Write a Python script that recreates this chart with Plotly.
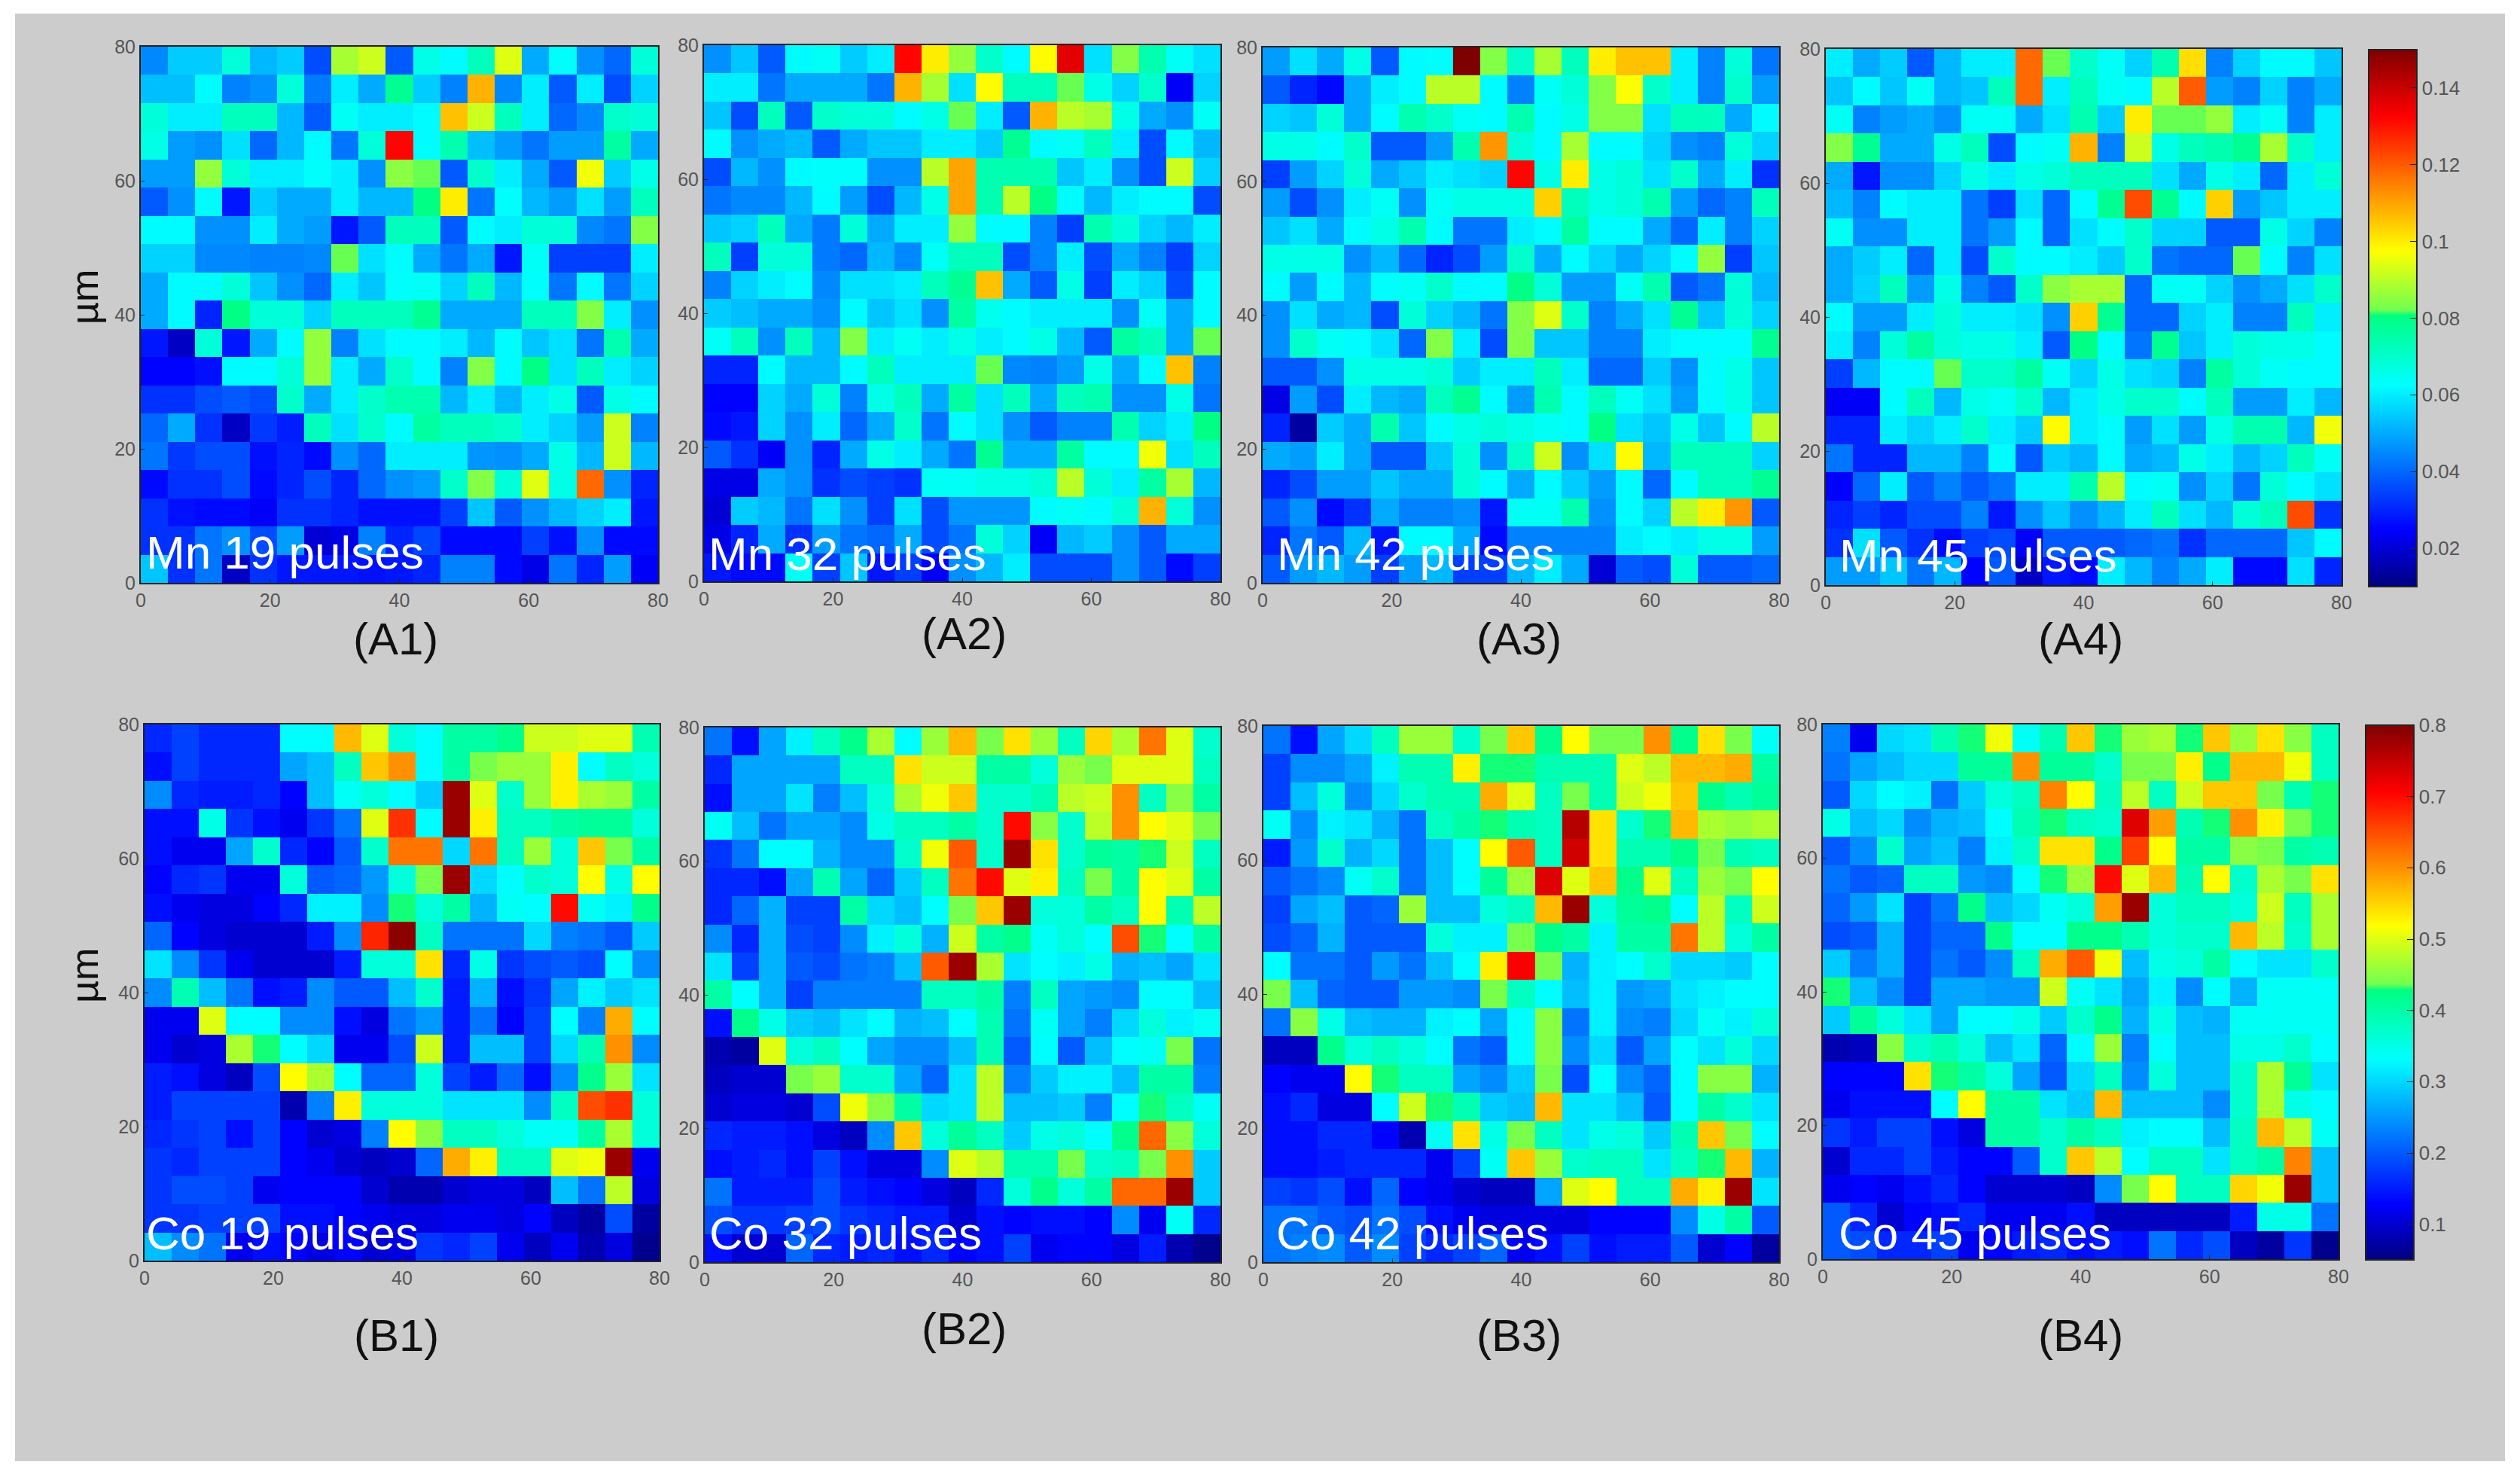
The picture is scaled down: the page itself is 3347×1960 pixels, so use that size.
import plotly.graph_objects as go
import numpy as np

# values, rows listed top to bottom
# Mn maps in units of 0.001, Co maps in units of 0.01
mn_19 = [
    [45, 55, 55, 68, 52, 55, 36, 88, 92, 38, 66, 62, 72, 94, 50, 63, 46, 40, 68],
    [53, 53, 62, 44, 46, 68, 43, 60, 50, 78, 55, 44, 108, 45, 60, 38, 60, 36, 56],
    [68, 60, 60, 72, 72, 52, 38, 64, 60, 60, 62, 106, 92, 72, 60, 40, 45, 70, 68],
    [66, 48, 46, 58, 40, 52, 62, 42, 68, 132, 62, 74, 53, 48, 42, 48, 48, 76, 50],
    [48, 48, 86, 68, 60, 60, 63, 60, 46, 85, 82, 38, 70, 60, 50, 38, 96, 55, 66],
    [38, 46, 62, 28, 55, 50, 50, 60, 52, 52, 80, 100, 42, 63, 52, 48, 58, 48, 72],
    [62, 62, 46, 46, 60, 50, 48, 28, 38, 72, 72, 38, 62, 60, 68, 68, 45, 42, 84],
    [56, 56, 45, 45, 44, 44, 45, 82, 58, 62, 50, 42, 50, 28, 64, 34, 34, 34, 60],
    [50, 62, 62, 68, 54, 46, 40, 60, 54, 63, 64, 56, 72, 52, 63, 42, 62, 42, 56],
    [50, 62, 30, 80, 68, 68, 56, 72, 72, 72, 78, 50, 50, 50, 72, 72, 84, 60, 46],
    [28, 18, 68, 28, 50, 62, 86, 44, 58, 62, 62, 60, 52, 62, 54, 58, 42, 74, 50],
    [25, 25, 27, 62, 62, 68, 86, 60, 50, 70, 62, 44, 84, 62, 80, 58, 72, 60, 56],
    [32, 32, 36, 38, 36, 70, 50, 60, 70, 74, 74, 52, 60, 52, 60, 66, 38, 66, 62],
    [40, 50, 32, 18, 33, 29, 72, 58, 70, 62, 76, 72, 72, 70, 60, 56, 48, 92, 44],
    [42, 33, 36, 36, 27, 30, 26, 46, 40, 60, 60, 60, 47, 46, 50, 66, 52, 92, 52],
    [26, 32, 32, 36, 26, 30, 36, 30, 40, 46, 48, 70, 84, 68, 94, 66, 118, 46, 30],
    [32, 27, 26, 26, 24, 32, 32, 30, 27, 27, 27, 34, 54, 38, 46, 52, 56, 60, 28],
    [32, 32, 42, 46, 36, 48, 20, 22, 44, 30, 35, 26, 26, 26, 34, 27, 46, 26, 26],
    [54, 32, 42, 18, 32, 28, 28, 28, 27, 28, 30, 44, 44, 26, 22, 42, 30, 48, 24],
]
mn_32 = [
    [46, 54, 38, 62, 64, 55, 60, 132, 100, 86, 70, 62, 98, 136, 58, 84, 74, 64, 58],
    [60, 60, 42, 50, 50, 50, 42, 108, 88, 58, 98, 72, 72, 82, 66, 56, 70, 24, 56],
    [54, 36, 72, 38, 70, 68, 68, 62, 66, 82, 60, 38, 108, 90, 88, 66, 50, 46, 64],
    [62, 46, 50, 52, 38, 50, 54, 54, 60, 60, 55, 78, 62, 64, 72, 60, 36, 62, 52],
    [36, 52, 46, 62, 63, 63, 46, 46, 90, 110, 74, 74, 74, 54, 60, 46, 36, 92, 56],
    [42, 45, 45, 52, 62, 48, 36, 52, 66, 110, 74, 90, 80, 62, 52, 60, 62, 62, 36],
    [54, 56, 72, 50, 43, 68, 50, 60, 60, 86, 62, 62, 44, 34, 74, 68, 56, 52, 60],
    [72, 34, 68, 68, 43, 40, 52, 45, 64, 72, 72, 36, 44, 60, 36, 50, 44, 34, 56],
    [44, 56, 60, 62, 45, 58, 58, 60, 72, 78, 106, 50, 38, 66, 34, 60, 56, 36, 62],
    [55, 53, 50, 50, 46, 62, 54, 58, 46, 76, 65, 62, 60, 60, 60, 46, 64, 50, 62],
    [64, 72, 46, 72, 52, 84, 60, 64, 60, 66, 60, 62, 66, 52, 38, 76, 72, 50, 82],
    [30, 30, 62, 52, 52, 62, 72, 60, 60, 60, 82, 45, 44, 48, 66, 50, 62, 106, 44],
    [25, 25, 56, 50, 68, 44, 66, 72, 50, 76, 58, 72, 50, 72, 74, 46, 46, 66, 42],
    [26, 28, 56, 46, 60, 40, 50, 70, 42, 62, 58, 46, 38, 44, 44, 74, 56, 60, 80],
    [38, 32, 24, 46, 30, 50, 66, 60, 50, 42, 78, 50, 50, 76, 62, 62, 96, 58, 72],
    [22, 22, 50, 46, 32, 36, 34, 32, 64, 64, 66, 66, 68, 90, 68, 60, 76, 88, 52],
    [20, 55, 52, 42, 58, 46, 34, 58, 36, 47, 47, 47, 62, 64, 62, 68, 108, 68, 46],
    [22, 30, 50, 32, 48, 42, 40, 50, 36, 42, 68, 56, 24, 52, 55, 46, 38, 50, 50],
    [28, 26, 26, 64, 34, 54, 28, 34, 24, 46, 52, 60, 36, 36, 36, 46, 38, 26, 34],
]
mn_42 = [
    [48, 58, 50, 66, 38, 62, 63, 150, 84, 70, 88, 72, 100, 106, 106, 60, 44, 68, 42],
    [38, 30, 26, 50, 60, 62, 90, 90, 62, 44, 64, 68, 84, 97, 70, 60, 44, 70, 48],
    [56, 54, 68, 50, 62, 74, 70, 64, 62, 74, 62, 66, 84, 84, 58, 72, 72, 50, 62],
    [66, 66, 62, 70, 38, 38, 48, 74, 112, 68, 62, 88, 62, 62, 56, 46, 44, 68, 56],
    [34, 48, 56, 68, 50, 54, 60, 58, 56, 132, 66, 100, 66, 68, 58, 70, 50, 60, 32],
    [48, 36, 46, 60, 64, 46, 64, 66, 66, 66, 104, 72, 66, 68, 74, 48, 40, 44, 72],
    [54, 58, 50, 62, 66, 74, 62, 42, 42, 60, 62, 76, 62, 62, 50, 40, 60, 44, 56],
    [66, 66, 66, 46, 52, 40, 30, 36, 48, 70, 50, 62, 56, 50, 56, 62, 86, 34, 54],
    [62, 48, 62, 52, 63, 64, 70, 62, 62, 80, 68, 48, 48, 64, 74, 38, 42, 68, 52],
    [46, 58, 50, 52, 36, 68, 56, 52, 42, 84, 94, 70, 44, 50, 58, 78, 54, 68, 56],
    [46, 70, 64, 62, 58, 40, 84, 60, 36, 84, 54, 54, 44, 44, 60, 62, 62, 62, 78],
    [38, 38, 46, 66, 66, 66, 68, 55, 60, 60, 72, 60, 40, 40, 55, 46, 62, 66, 54],
    [22, 48, 36, 60, 52, 50, 72, 78, 62, 48, 74, 62, 72, 64, 58, 48, 62, 66, 54],
    [30, 14, 55, 50, 74, 54, 62, 66, 68, 66, 64, 62, 80, 58, 54, 66, 54, 62, 90],
    [50, 48, 60, 50, 38, 38, 54, 68, 46, 70, 92, 46, 58, 98, 52, 72, 72, 72, 56],
    [30, 36, 48, 48, 54, 50, 50, 68, 62, 50, 62, 55, 48, 62, 40, 62, 72, 72, 78],
    [38, 46, 26, 32, 50, 44, 44, 46, 28, 64, 64, 74, 46, 62, 56, 90, 100, 112, 38],
    [30, 42, 38, 52, 28, 62, 62, 50, 26, 44, 44, 44, 44, 60, 62, 60, 66, 66, 48],
    [38, 48, 52, 48, 34, 48, 52, 34, 34, 52, 60, 50, 20, 38, 36, 68, 38, 38, 40],
]
mn_45 = [
    [60, 50, 55, 38, 52, 60, 60, 118, 82, 70, 64, 56, 74, 102, 44, 56, 62, 62, 54],
    [54, 62, 54, 64, 52, 54, 72, 118, 60, 72, 64, 62, 90, 120, 48, 44, 56, 44, 50],
    [64, 44, 48, 50, 46, 64, 64, 50, 58, 74, 55, 100, 82, 82, 86, 60, 64, 44, 60],
    [84, 78, 50, 50, 66, 72, 36, 62, 64, 108, 44, 92, 66, 72, 74, 78, 88, 70, 60],
    [50, 28, 46, 46, 56, 66, 60, 66, 68, 72, 72, 72, 58, 50, 66, 60, 40, 60, 68],
    [52, 44, 62, 60, 60, 42, 34, 58, 40, 62, 78, 122, 78, 62, 104, 48, 54, 60, 60],
    [64, 46, 46, 60, 60, 42, 48, 62, 40, 58, 62, 70, 56, 56, 38, 38, 66, 56, 44],
    [50, 55, 60, 40, 60, 36, 70, 62, 62, 60, 55, 70, 42, 40, 40, 82, 62, 44, 58],
    [50, 56, 72, 48, 66, 44, 38, 70, 85, 88, 88, 40, 64, 64, 56, 46, 50, 58, 70],
    [62, 48, 48, 60, 68, 60, 60, 58, 46, 104, 78, 40, 40, 56, 60, 44, 44, 72, 60],
    [60, 44, 68, 76, 68, 66, 66, 60, 38, 80, 62, 42, 78, 54, 60, 68, 66, 66, 62],
    [34, 52, 62, 62, 82, 70, 70, 76, 64, 56, 66, 58, 56, 44, 76, 68, 64, 62, 62],
    [24, 24, 62, 72, 52, 66, 64, 70, 52, 60, 66, 70, 70, 62, 72, 48, 48, 60, 52],
    [30, 30, 60, 56, 60, 70, 60, 55, 98, 60, 62, 48, 58, 48, 66, 74, 74, 52, 96],
    [42, 30, 30, 52, 52, 44, 62, 38, 55, 52, 62, 50, 52, 66, 60, 52, 56, 72, 64],
    [25, 40, 60, 38, 44, 38, 42, 60, 60, 74, 90, 62, 64, 46, 56, 42, 68, 62, 58],
    [30, 34, 30, 36, 36, 44, 28, 46, 54, 46, 52, 60, 72, 58, 52, 68, 72, 122, 32],
    [32, 58, 38, 32, 26, 34, 36, 24, 38, 38, 38, 40, 42, 32, 40, 40, 40, 54, 62],
    [48, 48, 54, 42, 52, 25, 38, 18, 28, 26, 60, 52, 44, 50, 60, 26, 26, 58, 30],
]
co_19 = [
    [16, 18, 16, 16, 16, 33, 33, 57, 50, 36, 33, 40, 40, 42, 49, 49, 50, 50, 39],
    [14, 18, 16, 16, 16, 26, 28, 38, 56, 60, 33, 40, 44, 46, 46, 53, 33, 38, 36],
    [24, 16, 15, 15, 16, 13, 28, 34, 36, 33, 29, 78, 50, 37, 46, 53, 47, 46, 40],
    [14, 14, 35, 17, 14, 12, 17, 22, 50, 67, 33, 78, 53, 38, 38, 40, 41, 41, 36],
    [14, 12, 12, 26, 37, 16, 13, 20, 37, 62, 62, 30, 62, 38, 46, 36, 56, 44, 40],
    [13, 16, 17, 12, 12, 36, 20, 21, 25, 36, 44, 78, 30, 33, 37, 36, 52, 35, 52],
    [14, 12, 11, 11, 13, 16, 32, 32, 24, 43, 36, 40, 27, 34, 33, 70, 34, 32, 42],
    [21, 13, 11, 10, 10, 10, 15, 24, 68, 79, 38, 22, 22, 22, 30, 23, 22, 20, 29],
    [31, 24, 17, 12, 10, 10, 10, 15, 36, 36, 54, 16, 35, 17, 19, 20, 19, 33, 24],
    [24, 39, 28, 22, 14, 15, 24, 20, 20, 28, 37, 15, 27, 14, 17, 26, 32, 29, 31],
    [12, 12, 50, 33, 33, 24, 24, 14, 11, 22, 25, 15, 22, 13, 18, 33, 23, 58, 33],
    [12, 10, 11, 47, 43, 33, 30, 12, 12, 19, 49, 15, 28, 28, 18, 30, 39, 60, 24],
    [15, 14, 11, 9, 19, 52, 47, 33, 21, 21, 36, 18, 15, 21, 14, 24, 42, 46, 31],
    [15, 18, 18, 18, 18, 8, 23, 53, 36, 36, 36, 31, 31, 31, 24, 38, 65, 67, 36],
    [16, 17, 18, 14, 18, 13, 10, 11, 23, 52, 45, 38, 38, 36, 34, 34, 40, 47, 36],
    [17, 16, 18, 18, 18, 13, 12, 10, 9, 10, 21, 58, 53, 38, 38, 50, 51, 78, 12],
    [17, 19, 19, 18, 12, 13, 13, 13, 10, 8, 8, 10, 11, 11, 9, 28, 22, 48, 11],
    [17, 17, 18, 18, 18, 14, 14, 13, 12, 11, 11, 12, 12, 11, 13, 9, 7, 19, 7],
    [28, 24, 22, 12, 14, 13, 11, 13, 10, 11, 17, 16, 18, 12, 9, 12, 8, 11, 6],
]
co_32 = [
    [22, 14, 26, 32, 38, 42, 47, 33, 46, 57, 44, 54, 46, 38, 55, 47, 62, 50, 37],
    [16, 26, 26, 26, 26, 38, 38, 54, 49, 49, 40, 40, 36, 46, 44, 50, 50, 50, 38],
    [14, 26, 26, 31, 23, 28, 36, 47, 51, 56, 37, 37, 39, 48, 49, 60, 38, 45, 40],
    [34, 28, 22, 26, 26, 24, 35, 38, 38, 40, 37, 70, 45, 37, 48, 60, 52, 50, 44],
    [17, 22, 33, 33, 27, 24, 24, 37, 51, 64, 37, 78, 54, 37, 41, 40, 43, 49, 38],
    [16, 16, 14, 26, 39, 26, 21, 29, 38, 62, 70, 50, 53, 38, 44, 40, 52, 50, 40],
    [16, 21, 27, 18, 18, 40, 30, 28, 33, 44, 56, 78, 36, 36, 40, 38, 52, 39, 48],
    [24, 16, 27, 19, 18, 24, 32, 36, 27, 49, 40, 42, 34, 36, 33, 65, 43, 33, 40],
    [31, 18, 27, 20, 19, 22, 23, 28, 64, 78, 47, 31, 33, 32, 35, 27, 28, 26, 31],
    [40, 33, 27, 18, 23, 23, 23, 23, 38, 38, 40, 23, 38, 26, 25, 24, 33, 33, 28],
    [14, 42, 35, 29, 28, 31, 33, 27, 28, 33, 39, 22, 34, 26, 23, 30, 36, 32, 34],
    [8, 7, 50, 36, 38, 33, 26, 24, 24, 28, 39, 20, 33, 20, 28, 33, 34, 44, 22],
    [9, 10, 10, 44, 46, 37, 37, 26, 21, 31, 48, 23, 29, 32, 32, 28, 40, 40, 23],
    [10, 11, 11, 10, 19, 51, 45, 40, 30, 31, 48, 28, 28, 29, 23, 33, 43, 38, 34],
    [16, 15, 15, 14, 11, 9, 24, 56, 36, 41, 38, 29, 35, 36, 33, 42, 63, 45, 36],
    [14, 15, 16, 14, 18, 14, 11, 11, 24, 50, 48, 39, 39, 44, 37, 38, 44, 60, 29],
    [22, 15, 15, 15, 19, 15, 14, 13, 11, 9, 16, 36, 42, 36, 40, 63, 63, 78, 29],
    [19, 17, 17, 18, 19, 17, 16, 15, 15, 10, 14, 13, 14, 14, 13, 24, 12, 34, 16],
    [14, 10, 10, 21, 16, 15, 16, 14, 16, 13, 14, 18, 12, 13, 13, 11, 15, 8, 6],
]
co_42 = [
    [22, 14, 26, 30, 38, 46, 46, 37, 44, 56, 42, 52, 44, 44, 60, 42, 54, 44, 34],
    [18, 24, 24, 26, 32, 39, 39, 53, 43, 43, 39, 39, 39, 50, 48, 57, 57, 58, 40],
    [18, 28, 36, 24, 30, 37, 39, 39, 58, 50, 38, 44, 39, 49, 51, 56, 42, 39, 41],
    [34, 24, 32, 31, 27, 22, 38, 40, 43, 39, 38, 76, 54, 37, 43, 57, 47, 46, 47],
    [15, 25, 37, 27, 30, 22, 28, 33, 52, 64, 38, 74, 54, 39, 39, 42, 44, 39, 38],
    [20, 22, 24, 34, 37, 22, 28, 33, 41, 46, 73, 50, 56, 42, 50, 38, 46, 44, 52],
    [18, 26, 28, 20, 21, 46, 28, 28, 36, 38, 57, 78, 36, 41, 42, 33, 48, 38, 49],
    [19, 21, 27, 20, 20, 20, 36, 32, 32, 44, 42, 40, 32, 40, 40, 62, 48, 36, 40],
    [33, 22, 22, 20, 25, 22, 28, 33, 53, 71, 44, 27, 32, 33, 37, 30, 30, 29, 33],
    [44, 28, 21, 20, 20, 25, 25, 24, 44, 38, 33, 28, 32, 25, 26, 31, 32, 33, 33],
    [22, 45, 35, 28, 27, 27, 32, 33, 26, 33, 45, 22, 32, 24, 23, 30, 34, 32, 36],
    [9, 9, 42, 36, 38, 36, 33, 22, 20, 33, 45, 24, 30, 20, 26, 33, 31, 36, 30],
    [13, 12, 12, 52, 43, 38, 38, 26, 24, 29, 44, 19, 33, 24, 21, 33, 45, 45, 27],
    [14, 16, 11, 11, 33, 49, 43, 39, 29, 28, 57, 31, 31, 28, 20, 33, 40, 37, 31],
    [14, 14, 16, 16, 13, 8, 34, 54, 35, 44, 38, 31, 35, 36, 29, 39, 56, 44, 33],
    [14, 14, 15, 16, 16, 16, 12, 18, 34, 56, 46, 37, 38, 38, 31, 38, 43, 57, 27],
    [18, 17, 19, 14, 21, 13, 12, 10, 9, 9, 26, 50, 52, 38, 38, 58, 53, 78, 31],
    [22, 22, 20, 19, 22, 19, 14, 12, 11, 11, 11, 11, 13, 13, 13, 24, 35, 40, 20],
    [22, 23, 24, 20, 24, 18, 16, 18, 21, 12, 14, 18, 14, 15, 15, 20, 10, 13, 7],
]
co_45 = [
    [23, 12, 30, 31, 39, 43, 51, 34, 39, 56, 43, 46, 47, 43, 56, 46, 54, 45, 38],
    [22, 26, 28, 30, 30, 41, 41, 60, 41, 41, 37, 44, 44, 53, 42, 57, 57, 51, 38],
    [20, 30, 33, 32, 22, 29, 36, 38, 61, 52, 38, 48, 38, 49, 56, 56, 44, 39, 43],
    [35, 28, 30, 24, 27, 28, 33, 39, 43, 38, 37, 73, 59, 39, 43, 60, 53, 44, 43],
    [20, 24, 37, 26, 28, 23, 32, 37, 54, 54, 42, 66, 52, 40, 40, 45, 44, 40, 39],
    [22, 20, 21, 38, 38, 25, 24, 33, 43, 46, 70, 50, 57, 39, 52, 37, 47, 44, 54],
    [21, 25, 31, 18, 22, 42, 28, 30, 34, 36, 59, 78, 36, 38, 38, 36, 49, 38, 47],
    [19, 20, 27, 18, 21, 21, 42, 33, 33, 42, 42, 39, 36, 37, 37, 57, 48, 37, 47],
    [29, 23, 27, 18, 22, 20, 24, 38, 58, 64, 51, 28, 35, 36, 40, 33, 31, 31, 37],
    [43, 28, 24, 18, 26, 26, 25, 25, 49, 34, 31, 26, 32, 24, 33, 27, 34, 34, 34],
    [29, 41, 36, 31, 26, 33, 33, 35, 29, 37, 42, 27, 35, 28, 27, 34, 34, 34, 34],
    [8, 9, 45, 37, 39, 36, 28, 31, 21, 33, 46, 23, 33, 28, 28, 35, 35, 37, 33],
    [13, 13, 13, 54, 43, 40, 36, 26, 20, 30, 38, 24, 36, 28, 28, 37, 47, 41, 31],
    [12, 14, 14, 14, 33, 52, 40, 40, 31, 29, 57, 28, 28, 28, 24, 37, 47, 35, 33],
    [17, 15, 18, 18, 14, 11, 40, 40, 37, 40, 38, 32, 33, 33, 28, 38, 57, 48, 34],
    [10, 16, 16, 18, 15, 13, 13, 20, 37, 56, 48, 33, 38, 38, 31, 38, 40, 61, 28],
    [12, 13, 12, 14, 16, 13, 10, 10, 10, 9, 24, 44, 52, 38, 38, 55, 51, 78, 28],
    [20, 16, 10, 13, 14, 16, 12, 12, 12, 14, 9, 9, 9, 9, 9, 15, 35, 35, 22],
    [20, 19, 16, 16, 18, 12, 13, 15, 16, 14, 15, 14, 22, 16, 19, 9, 7, 17, 6],
]

panel_names = ["Mn 19 pulses", "Mn 32 pulses", "Mn 42 pulses", "Mn 45 pulses",
               "Co 19 pulses", "Co 32 pulses", "Co 42 pulses", "Co 45 pulses"]
panel_tags = ["(A1)", "(A2)", "(A3)", "(A4)", "(B1)", "(B2)", "(B3)", "(B4)"]
mn_ticks = [0.02, 0.04, 0.06, 0.08, 0.1, 0.12, 0.14]
co_ticks = [0.1, 0.2, 0.3, 0.4, 0.5, 0.6, 0.7, 0.8]
axis_ticks = [0, 20, 40, 60, 80]

W, H = 3347, 1960
GREY = "#cccccc"
TICK_COLOR = "#555555"
FONT = "Liberation Sans"

# pixel boxes of the panels in the image: left, right, top, bottom
boxes = [
    (187, 874, 62, 774), (935, 1621, 60, 772), (1677, 2363, 63, 774), (2425, 3110, 65, 777),
    (192, 876, 962, 1674), (936, 1621, 966, 1676), (1678, 2363, 964, 1676), (2421, 3106, 962, 1672),
]
tag_pos = [(525, 848), (1280, 841), (2017, 848), (2763, 848),
           (526, 1773), (1280, 1764), (2017, 1773), (2763, 1773)]
name_pos = [(192, 733), (939, 735), (1694, 735), (2441, 737),
            (192, 1637), (940, 1637), (1693, 1637), (2440, 1637)]

jet = [
    [0.0, "#00007f"], [0.105, "#0000ff"], [0.375, "#00ffff"],
    [0.505, "#00ff80"], [0.515, "#70ff50"], [0.625, "#ffff00"],
    [0.875, "#ff0000"], [1.0, "#7f0000"],
]


def fx(px):
    return px / W


def fy(py):
    return 1 - py / H


maps = [np.array(m) / 1000 for m in (mn_19, mn_32, mn_42, mn_45)]
maps += [np.array(m) / 100 for m in (co_19, co_32, co_42, co_45)]
n_cells = maps[0].shape[0]
centers = (np.arange(n_cells) + 0.5) * 80 / n_cells

fig = go.Figure()
layout = {}
annotations = []
for i, z in enumerate(maps):
    left, right, top, bottom = boxes[i]
    fig.add_trace(go.Heatmap(
        x=centers, y=centers, z=z[::-1],
        coloraxis="coloraxis" if i < 4 else "coloraxis2",
        xaxis="x%d" % (i + 1), yaxis="y%d" % (i + 1),
        hoverinfo="skip",
    ))
    axis_style = dict(
        range=[0, 80], tickvals=axis_ticks, ticks="inside", ticklen=5, tickwidth=1,
        tickcolor="#222222", showgrid=False, zeroline=False, showline=True, mirror=True,
        linecolor="#222222", linewidth=2,
        tickfont=dict(family=FONT, size=25, color=TICK_COLOR),
    )
    layout["xaxis%d" % (i + 1)] = dict(
        domain=[fx(left), fx(right)], anchor="y%d" % (i + 1), **axis_style)
    layout["yaxis%d" % (i + 1)] = dict(
        domain=[fy(bottom), fy(top)], anchor="x%d" % (i + 1), **axis_style)
    annotations.append(dict(
        text=panel_names[i], xref="paper", yref="paper", x=fx(name_pos[i][0]), xanchor="left",
        y=fy(name_pos[i][1]), yanchor="middle", showarrow=False,
        font=dict(family=FONT, size=62, color="white"),
    ))
    annotations.append(dict(
        text=panel_tags[i], xref="paper", yref="paper", x=fx(tag_pos[i][0]), xanchor="center",
        y=fy(tag_pos[i][1]), yanchor="middle", showarrow=False,
        font=dict(family=FONT, size=60, color="#111111"),
    ))

for py in (395, 1296):
    annotations.append(dict(
        text="µm", xref="paper", yref="paper", x=fx(112), y=fy(py), textangle=-90,
        xanchor="center", yanchor="middle", showarrow=False,
        font=dict(family=FONT, size=52, color="#111111"),
    ))

colorbar_style = dict(
    thickness=64, thicknessmode="pixels", lenmode="pixels", xanchor="left", yanchor="top",
    ticks="inside", ticklen=10, tickcolor="#222222", outlinecolor="#222222", outlinewidth=2,
    tickfont=dict(family=FONT, size=26, color=TICK_COLOR), xpad=0, ypad=0,
)
fig.update_layout(
    width=W, height=H, margin=dict(l=0, r=0, t=0, b=0, autoexpand=False),
    paper_bgcolor="white", plot_bgcolor=GREY, showlegend=False,
    annotations=annotations,
    shapes=[dict(type="rect", xref="paper", yref="paper", layer="below",
                 x0=fx(20), x1=fx(3327), y0=fy(1940), y1=fy(18),
                 fillcolor=GREY, line_width=0)],
    coloraxis=dict(
        colorscale=jet, cmin=0.01, cmax=0.15,
        colorbar=dict(x=fx(3146), y=fy(66), len=713, tickvals=mn_ticks,
                      ticktext=["0.02", "0.04", "0.06", "0.08", "0.1", "0.12", "0.14"],
                      **colorbar_style),
    ),
    coloraxis2=dict(
        colorscale=jet, cmin=0.05, cmax=0.8,
        colorbar=dict(x=fx(3142), y=fy(963), len=710, tickvals=co_ticks,
                      ticktext=["0.1", "0.2", "0.3", "0.4", "0.5", "0.6", "0.7", "0.8"],
                      **colorbar_style),
    ),
    **layout,
)

fig.write_html("out.html", config={"displayModeBar": False},
               post_script="document.body.style.margin = '0';")
